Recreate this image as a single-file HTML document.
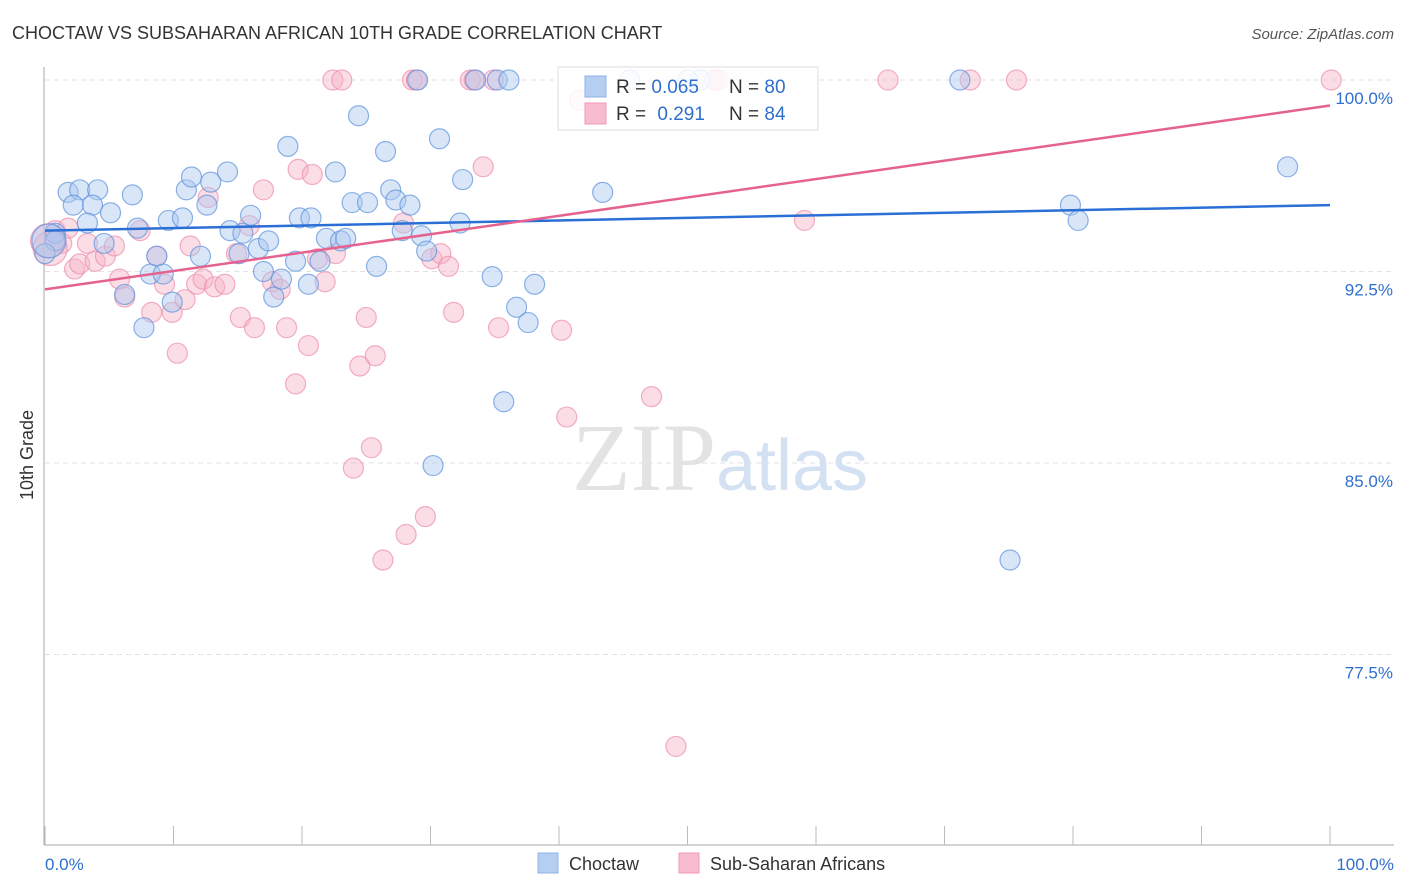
<!DOCTYPE html>
<html><head><meta charset="utf-8"><style>
body{margin:0;background:#fff;font-family:"Liberation Sans",sans-serif;}
svg{display:block}
</style></head><body>
<svg id="chart" width="1406" height="892" viewBox="0 0 1406 892" xmlns="http://www.w3.org/2000/svg">
<text x="12" y="39" font-size="18" fill="#333" font-family="Liberation Sans, sans-serif">CHOCTAW VS SUBSAHARAN AFRICAN 10TH GRADE CORRELATION CHART</text>
<text x="1394" y="39" font-size="15" fill="#555" text-anchor="end" font-style="italic">Source: ZipAtlas.com</text>
<g id="grid"></g>
<g id="axes"></g>
<text x="720" y="490" font-size="96" text-anchor="middle" fill="#e3e3e3" font-family="Liberation Serif, serif">ZIP<tspan fill="#d3e1f3" font-family="Liberation Sans, sans-serif" font-size="72">atlas</tspan></text>
<g id="pts"></g>
<g id="trend"></g>
<text transform="translate(33,455) rotate(-90)" font-size="18" fill="#333" text-anchor="middle">10th Grade</text>
<g>
<rect x="558" y="67" width="260" height="63" fill="#fff" fill-opacity="0.85" stroke="#ddd"/>
<rect x="585" y="76" width="21" height="21" fill="#b5cff3" stroke="#8fb3e6"/>
<rect x="585" y="103" width="21" height="21" fill="#f8bcd0" stroke="#f09ab6"/>
<text x="616" y="93" font-size="19" fill="#333">R = <tspan fill="#2f6fcd">0.065</tspan></text>
<text x="729" y="93" font-size="19" fill="#333">N = <tspan fill="#2f6fcd">80</tspan></text>
<text x="616" y="120" font-size="19" fill="#333">R = <tspan fill="#2f6fcd" dx="6">0.291</tspan></text>
<text x="729" y="120" font-size="19" fill="#333">N = <tspan fill="#2f6fcd">84</tspan></text>
</g>
<g>
<rect x="538" y="853" width="20" height="20" fill="#b5cff3" stroke="#8fb3e6"/>
<text x="569" y="870" font-size="18" fill="#333">Choctaw</text>
<rect x="679" y="853" width="20" height="20" fill="#f8bcd0" stroke="#f09ab6"/>
<text x="710" y="870" font-size="18" fill="#333">Sub-Saharan Africans</text>
</g>
</svg>
<script>
const yTicks=[100,92.5,85,77.5];
const yTickLabels=["100.0%","92.5%","85.0%","77.5%"];
const xTickLabels=["0.0%","100.0%"];
const blueX=[0.8,1.8,2.7,4.1,2.2,3.7,3.3,5.1,6.8,7.2,4.6,8.7,8.2,9.2,6.2,7.7,9.9,9.6,10.7,11.0,11.4,12.9,14.2,12.6,12.1,14.4,15.4,16.0,15.1,16.6,17.4,17.0,17.8,18.4,19.5,20.5,18.9,19.8,20.7,21.4,21.9,23.0,23.4,22.6,24.4,23.9,25.1,25.8,26.5,26.9,27.3,28.4,27.8,29.3,29.7,30.7,32.5,32.3,34.8,36.7,37.6,38.1,35.7,30.2,43.4,96.7,79.8,80.4,75.1,29.0,33.5,35.2,36.1,45.5,71.2,0.8,0.0,0.3,51.0,50.0];
const blueY=[94.0,95.6,95.7,95.7,95.1,95.1,94.4,94.8,95.5,94.2,93.6,93.1,92.4,92.4,91.6,90.3,91.3,94.5,94.6,95.7,96.2,96.0,96.4,95.1,93.1,94.1,94.0,94.7,93.2,93.4,93.7,92.5,91.5,92.2,92.9,92.0,97.4,94.6,94.6,92.9,93.8,93.7,93.8,96.4,98.6,95.2,95.2,92.7,97.2,95.7,95.3,95.1,94.1,93.9,93.3,97.7,96.1,94.4,92.3,91.1,90.5,92.0,87.4,84.9,95.6,96.6,95.1,94.5,81.2,100,100,100,100,100,100,93.7,93.2,93.7,100,100];
const pinkX=[0.8,1.8,1.3,2.3,2.7,3.3,3.9,4.7,5.4,5.8,6.2,7.4,8.3,8.7,9.3,9.9,10.3,10.9,11.3,11.8,12.3,12.7,13.2,14.0,14.9,15.2,15.9,16.3,17.0,17.7,18.3,18.8,19.5,19.7,20.5,20.8,21.2,21.8,22.6,24.5,25.0,25.7,24.0,25.4,26.3,28.1,29.6,27.9,30.1,30.8,31.4,31.8,34.1,35.3,40.2,40.6,47.2,49.1,59.1,22.4,23.1,28.6,28.9,33.1,33.4,34.9,41.6,52.1,52.4,65.6,72.0,75.6,100.1,0.2,0.4];
const pinkY=[94.1,94.2,93.6,92.6,92.8,93.6,92.9,93.1,93.5,92.2,91.5,94.1,90.9,93.1,92.0,90.9,89.3,91.4,93.5,92.0,92.2,95.4,91.9,92.0,93.2,90.7,94.3,90.3,95.7,92.1,91.8,90.3,88.1,96.5,89.6,96.3,93.0,92.1,93.2,88.8,90.7,89.2,84.8,85.6,81.2,82.2,82.9,94.4,93.0,93.2,92.7,90.9,96.6,90.3,90.2,86.8,87.6,73.9,94.5,100,100,100,100,100,100,100,99.2,100,100,100,100,100,100,93.7,93.4];
const blueTrend=[94.1,95.1];
const pinkTrend=[91.8,99.0];
const X0=45,X1=1330,Y100=80,PX_PER=191.5/7.5;
const sx=v=>X0+(X1-X0)*v/100;
const sy=v=>Y100+(100-v)*PX_PER;
const NS="http://www.w3.org/2000/svg";
function mk(tag,attrs,parent){const e=document.createElementNS(NS,tag);for(const k in attrs)e.setAttribute(k,attrs[k]);parent.appendChild(e);return e;}
const grid=document.getElementById('grid'),axes=document.getElementById('axes'),pts=document.getElementById('pts'),trend=document.getElementById('trend');
yTicks.forEach((t,i)=>{
 const l=mk('line',{x1:45,x2:1394,y1:sy(t),y2:sy(t),stroke:'#e2e2e2','stroke-dasharray':'5,4'},grid);
 
 
 const tx=mk('text',{x:1393,y:sy(t)+24,'font-size':17,fill:'#2f6fcd','text-anchor':'end'},axes);
 tx.textContent=yTickLabels[i];
 
 
});
mk('line',{x1:44,x2:44,y1:67,y2:845,stroke:'#aaa'},axes);
mk('line',{x1:44,x2:1394,y1:845,y2:845,stroke:'#aaa'},axes);
for(let i=0;i<=10;i++){const x=45+i*128.5;const t=mk('line',{x1:x,x2:x,y1:826,y2:845,stroke:'#bbb'},axes);}
const xl0=mk('text',{x:45,y:870,'font-size':17,fill:'#2f6fcd'},axes);xl0.textContent=xTickLabels[0];


const xl1=mk('text',{x:1394,y:870,'font-size':17,fill:'#2f6fcd','text-anchor':'end'},axes);xl1.textContent=xTickLabels[1];


function drawPts(xs,ys,fill,stroke,name){
 xs.forEach((v,i)=>{const r=(v<1&&i>=xs.length-3)?17:10;
 const c=mk('circle',{cx:sx(v),cy:sy(ys[i]),r:r,fill:fill,'fill-opacity':0.45,stroke:stroke,'stroke-opacity':0.7,'stroke-width':1.2},pts);
 
 });
}
drawPts(pinkX,pinkY,'#f7b3c8','#ec8dac','subsaharan-point');
drawPts(blueX,blueY,'#aac8f0','#5b92dc','choctaw-point');
const bt=mk('line',{x1:sx(0),y1:sy(blueTrend[0]),x2:sx(100),y2:sy(blueTrend[1]),stroke:'#2a6fd6','stroke-width':2.5},trend);


const pt=mk('line',{x1:sx(0),y1:sy(pinkTrend[0]),x2:sx(100),y2:sy(pinkTrend[1]),stroke:'#e5628f','stroke-width':2.5},trend);


</script>
</body></html>
